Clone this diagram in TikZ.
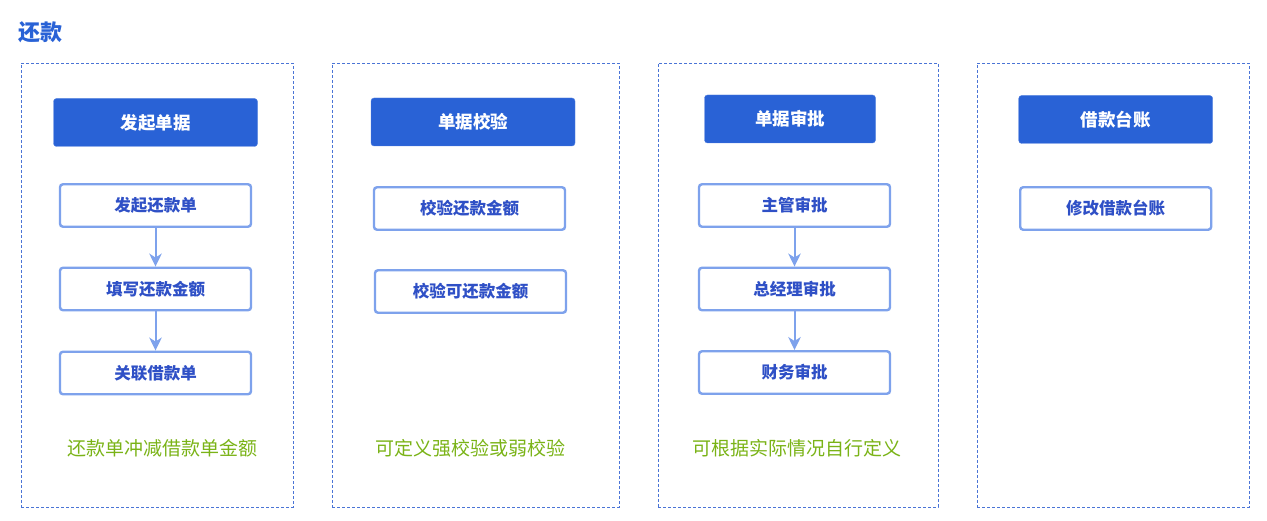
\documentclass[tikz,border=0pt]{standalone}
\usepackage{fontspec}
\setmainfont{Noto Sans CJK SC}
\usetikzlibrary{arrows.meta}
\definecolor{hdrblue}{HTML}{2962D6}
\definecolor{boxline}{HTML}{7EA2EC}
\definecolor{boxtext}{HTML}{2F50C6}
\definecolor{dashblue}{HTML}{4A74D6}
\definecolor{notegreen}{HTML}{7AB317}
\tikzset{
  panel/.style={draw=dashblue, line width=0.9pt, dash pattern=on 3pt off 2pt, minimum height=444pt, inner sep=0pt},
  header/.style={fill=hdrblue, draw=hdrblue!80!white, rounded corners=3pt, minimum height=48pt, inner sep=0pt, text=white, font=\fontsize{17.5pt}{20pt}\selectfont\bfseries},
  stepbox/.style={draw=boxline, line width=2.4pt, rounded corners=3pt, fill=white, minimum width=191pt, minimum height=42.5pt, inner sep=0pt, text=boxtext, font=\fontsize{16.5pt}{19pt}\selectfont\bfseries},
  note/.style={text=notegreen, font=\fontsize{19pt}{22pt}\selectfont, inner sep=0pt},
  flow/.style={draw=boxline, line width=2pt, -{Stealth[length=13pt, width=12.5pt, inset=4pt]}}
}
\begin{document}
\begin{tikzpicture}[x=1pt,y=-1pt]
\useasboundingbox (0,0) rectangle (1267,521);
% title
\node[anchor=west, inner sep=0pt, text=hdrblue, font=\fontsize{22pt}{26pt}\selectfont\bfseries] (title) at (18,32) {还款};
% panels
\node[panel, minimum width=272pt] (p1) at (157,285) {};
\node[panel, minimum width=287pt] (p2) at (475.5,285) {};
\node[panel, minimum width=280pt] (p3) at (798,285) {};
\node[panel, minimum width=272pt] (p4) at (1113,285) {};
% headers
\node[header, minimum width=204pt] (h1) at (155.5,122.5) {发起单据};
\node[header, minimum width=204pt] (h2) at (473,122) {单据校验};
\node[header, minimum width=171pt] (h3) at (790,119) {单据审批};
\node[header, minimum width=194pt] (h4) at (1115.7,119.5) {借款台账};
% column 1
\node[stepbox] (a1) at (155.5,205.5) {发起还款单};
\node[stepbox] (a2) at (155.5,289) {填写还款金额};
\node[stepbox] (a3) at (155.5,373) {关联借款单};
\draw[flow] (a1) -- (a2);
\draw[flow] (a2) -- (a3);
\node[note] (n1) at (162,448) {还款单冲减借款单金额};
% column 2
\node[stepbox] (b1) at (469.5,208.5) {校验还款金额};
\node[stepbox] (b2) at (470.5,291.5) {校验可还款金额};
\node[note] (n2) at (470,448) {可定义强校验或弱校验};
% column 3
\node[stepbox] (c1) at (794.5,205.5) {主管审批};
\node[stepbox] (c2) at (794.5,289) {总经理审批};
\node[stepbox] (c3) at (794.5,372.5) {财务审批};
\draw[flow] (c1) -- (c2);
\draw[flow] (c2) -- (c3);
\node[note] (n3) at (797,448) {可根据实际情况自行定义};
% column 4
\node[stepbox] (d1) at (1115.7,208.5) {修改借款台账};
\end{tikzpicture}
\end{document}
